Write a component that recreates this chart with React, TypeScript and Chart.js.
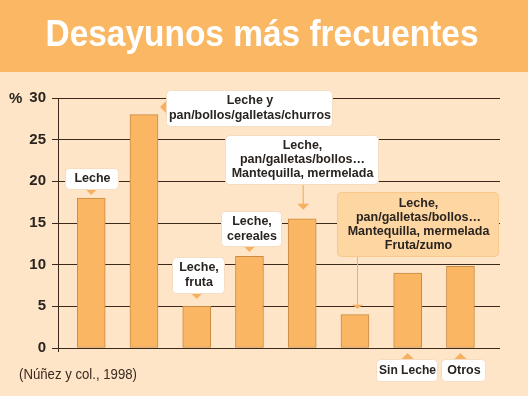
import React, { useEffect, useRef } from "react";
import { Chart, registerables } from "chart.js";

Chart.register(...registerables);

const TITLE = "Desayunos más frecuentes";
const SOURCE = "(Núñez y col., 1998)";
const UNIT = "%";

const categories = [
  "Leche",
  "Leche y pan/bollos/galletas/churros",
  "Leche, fruta",
  "Leche, cereales",
  "Leche, pan/galletas/bollos… Mantequilla, mermelada",
  "Leche, pan/galletas/bollos… Mantequilla, mermelada Fruta/zumo",
  "Sin Leche",
  "Otros",
];
const values = [18, 28, 5, 11, 15.5, 4, 9, 9.8];
const yTicks = [0, 5, 10, 15, 20, 25, 30];

const labelLines: string[][] = [
  ["Leche"],
  ["Leche y", "pan/bollos/galletas/churros"],
  ["Leche,", "fruta"],
  ["Leche,", "cereales"],
  ["Leche,", "pan/galletas/bollos…", "Mantequilla, mermelada"],
  ["Leche,", "pan/galletas/bollos…", "Mantequilla, mermelada", "Fruta/zumo"],
  ["Sin Leche"],
  ["Otros"],
];

// layout of the callouts (box rects in px) and pointer kind
type Callout = { x: number; y: number; w: number; h: number; kind: string; lh: number; fill?: boolean; lineX?: number };
const calloutLayout: Callout[] = [
  { x: 65, y: 168, w: 53, h: 21, kind: "down", lh: 14 },
  { x: 166, y: 90, w: 166, h: 36, kind: "left", lh: 15 },
  { x: 172, y: 257, w: 52, h: 36, kind: "down", lh: 15 },
  { x: 221, y: 211, w: 60, h: 35, kind: "down", lh: 14.5 },
  { x: 225, y: 135, w: 153, h: 49, kind: "arrow", lh: 14 },
  { x: 337, y: 192, w: 161, h: 64, kind: "line", lh: 13.7, fill: true, lineX: 357 },
  { x: 376, y: 359, w: 61, h: 22, kind: "up", lh: 14 },
  { x: 441, y: 359, w: 44, h: 22, kind: "up", lh: 14 },
];

const BG = "#fee5c8";
const BANNER = "#fbb864";
const BAR = "#fbb664";
const BAR_BORDER = "#c98b45";
const GRID = "#3b2a1c";
const POINTER = "#f7b060";
const TEXT = "#2a2420";
const FONT = "'Liberation Sans', Arial, sans-serif";

function roundRect(ctx: CanvasRenderingContext2D, x: number, y: number, w: number, h: number, r: number) {
  ctx.beginPath();
  ctx.moveTo(x + r, y);
  ctx.lineTo(x + w - r, y);
  ctx.quadraticCurveTo(x + w, y, x + w, y + r);
  ctx.lineTo(x + w, y + h - r);
  ctx.quadraticCurveTo(x + w, y + h, x + w - r, y + h);
  ctx.lineTo(x + r, y + h);
  ctx.quadraticCurveTo(x, y + h, x, y + h - r);
  ctx.lineTo(x, y + r);
  ctx.quadraticCurveTo(x, y, x + r, y);
  ctx.closePath();
}

const decorPlugin = {
  id: "decor",
  beforeDraw(chart: any) {
    const { ctx, width, height } = chart;
    ctx.save();
    ctx.fillStyle = BG;
    ctx.fillRect(0, 0, width, height);
    ctx.fillStyle = BANNER;
    ctx.fillRect(0, 0, width, 72);
    ctx.fillStyle = "#ffffff";
    ctx.font = "bold 37px " + FONT;
    ctx.textAlign = "center";
    ctx.textBaseline = "middle";
    ctx.fillText(TITLE, 262, 36, 433);
    ctx.fillStyle = TEXT;
    ctx.font = "bold 15px " + FONT;
    ctx.textAlign = "left";
    ctx.fillText(UNIT, 9, 99);
    ctx.fillStyle = "#3a2a20";
    ctx.font = "14px " + FONT;
    ctx.fillText(SOURCE, 19, 375, 118);
    ctx.restore();
  },
  afterDatasetsDraw(chart: any) {
    const { ctx } = chart;
    const xs = chart.scales.x;
    const ys = chart.scales.y;
    ctx.save();
    ctx.strokeStyle = GRID;
    ctx.lineWidth = 1;
    ctx.beginPath();
    ctx.moveTo(Math.round(xs.left) + 0.5, ys.bottom);
    ctx.lineTo(Math.round(xs.left) + 0.5, ys.bottom + 4);
    ctx.stroke();

    calloutLayout.forEach((c, i) => {
      const px = xs.getPixelForValue(i);
      const py = ys.getPixelForValue(values[i]);
      ctx.fillStyle = POINTER;
      ctx.strokeStyle = POINTER;
      if (c.kind === "down") {
        const base = c.y + c.h;
        ctx.beginPath();
        ctx.moveTo(px - 6, base);
        ctx.lineTo(px + 6, base);
        ctx.lineTo(px, base + 6);
        ctx.closePath();
        ctx.fill();
      } else if (c.kind === "up") {
        ctx.beginPath();
        ctx.moveTo(px - 6, c.y);
        ctx.lineTo(px + 6, c.y);
        ctx.lineTo(px, c.y - 6);
        ctx.closePath();
        ctx.fill();
      } else if (c.kind === "left") {
        const my = c.y + 17;
        ctx.beginPath();
        ctx.moveTo(c.x, my - 6);
        ctx.lineTo(c.x, my + 6);
        ctx.lineTo(c.x - 6, my);
        ctx.closePath();
        ctx.fill();
      } else if (c.kind === "arrow") {
        const tip = py - 9;
        ctx.lineWidth = 1.2;
        ctx.beginPath();
        ctx.moveTo(px + 1, c.y + c.h);
        ctx.lineTo(px + 1, tip - 3);
        ctx.stroke();
        ctx.beginPath();
        ctx.moveTo(px - 5, tip - 6);
        ctx.lineTo(px + 7, tip - 6);
        ctx.lineTo(px + 1, tip);
        ctx.closePath();
        ctx.fill();
      } else if (c.kind === "line") {
        const lx = c.lineX ?? px;
        const tip = py - 6;
        ctx.lineWidth = 1;
        ctx.beginPath();
        ctx.moveTo(lx + 0.5, c.y + c.h);
        ctx.lineTo(lx + 0.5, tip - 3);
        ctx.stroke();
        ctx.beginPath();
        ctx.moveTo(lx - 5, tip - 4);
        ctx.lineTo(lx + 6, tip - 4);
        ctx.lineTo(lx + 0.5, tip);
        ctx.closePath();
        ctx.fill();
      }
      roundRect(ctx, c.x + 0.5, c.y + 0.5, c.w, c.h, 4);
      ctx.fillStyle = c.fill ? "#fdd6a2" : "#ffffff";
      ctx.fill();
      ctx.strokeStyle = c.fill ? "#f8c88a" : "#f6dcc0";
      ctx.lineWidth = 1;
      ctx.stroke();
      const lines = labelLines[i];
      ctx.fillStyle = TEXT;
      ctx.font = "bold 12.5px " + FONT;
      ctx.textAlign = "center";
      ctx.textBaseline = "middle";
      const cx = c.x + c.w / 2 + 1;
      const total = (lines.length - 1) * c.lh;
      const cy = c.y + c.h / 2 - total / 2 + 0.5;
      lines.forEach((l, k) => ctx.fillText(l, cx, cy + k * c.lh, c.w - 4));
    });
    ctx.restore();
  },
};

export default function App() {
  const ref = useRef<HTMLCanvasElement | null>(null);
  useEffect(() => {
    if (!ref.current) return;
    const chart = new Chart(ref.current, {
      type: "bar",
      data: {
        datasets: [
          {
            label: "%",
            data: values.map((v, i) => ({ x: i, y: v })),
            backgroundColor: BAR,
            borderColor: BAR_BORDER,
            borderWidth: 1,
            borderSkipped: false,
            barThickness: 28,
          },
        ],
      },
      options: {
        animation: false,
        responsive: false,
        maintainAspectRatio: false,
        layout: { padding: { left: 0, top: 98, right: 28, bottom: 48 } },
        plugins: {
          legend: { display: false },
          tooltip: { enabled: false },
          title: { display: false },
        },
        scales: {
          x: {
            type: "linear",
            display: false,
            offset: false,
            grid: { offset: false },
            min: -0.63,
            max: 7.75,
          },
          y: {
            min: 0,
            max: 30,
            afterFit: (s: any) => {
              s.width = 58;
            },
            afterBuildTicks: (s: any) => {
              s.ticks = yTicks.map((v) => ({ value: v }));
            },
            grid: {
              color: GRID,
              lineWidth: 1,
              tickLength: 6,
              drawTicks: true,
            },
            border: { display: true, color: GRID, width: 1 },
            ticks: {
              color: TEXT,
              padding: 6,
              font: { family: FONT, size: 15, weight: "bold" },
            },
          },
        },
      },
      plugins: [decorPlugin],
    });
    return () => chart.destroy();
  }, []);
  return (
    <div style={{ position: "fixed", left: 0, top: 0, width: 528, height: 396, background: BG }}>
      <canvas ref={ref} width={528} height={396} style={{ display: "block", width: 528, height: 396 }} />
    </div>
  );
}
